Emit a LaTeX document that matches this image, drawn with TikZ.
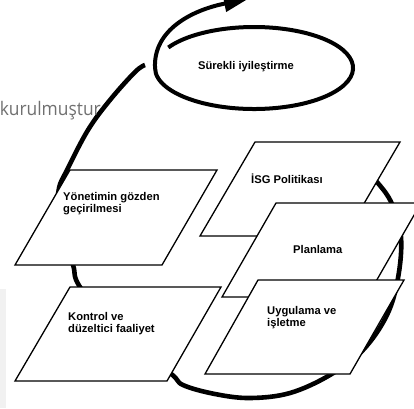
\documentclass[tikz,border=0pt]{standalone}
\usepackage{fontspec}
\setmainfont{Liberation Sans}
\newfontfamily\thinfont[FakeStretch=0.93]{Open Sans}
\usetikzlibrary{arrows.meta}
\definecolor{bandgray}{HTML}{F1F1F1}
\definecolor{notegray}{HTML}{707070}
\begin{document}
\begin{tikzpicture}[x=1pt,y=-1pt,
  card/.style={draw=black, line width=1.3pt, fill=white, line join=miter},
  lbl/.style={font=\fontsize{11.2}{11.8}\selectfont\bfseries, align=left, inner sep=0pt, anchor=base west},
  loopline/.style={line width=4.6pt, line cap=butt},
  spiral/.style={line width=4pt, line cap=butt},
]
\useasboundingbox (0,0) rectangle (414,408);
\clip (0,0) rectangle (414,408);
\fill[bandgray] (0,289) rectangle (6,408);

% big loop (behind the cards)
\draw[loopline] plot[smooth, tension=0.6] coordinates {(355,160) (377,182) (392,204) (401,237) (398,278) (387,315) (363,350) (330,375) (290,393) (250,398) (215,394) (183,385) (170,373) (120,338) (80,287) (73,265) (62,235) (58,210) (59,188) (67,170) (88,130) (110,100) (135,72) (145,65)};

% ellipse spiral with arrow
\coordinate (ec) at (254,68);
\coordinate (tip) at (248,-1);
\draw[spiral, -{Triangle[length=24pt,width=16pt]}] (168.3,47.5) arc[start angle=210, end angle=540, x radius=99, y radius=41] .. controls (153,30) and (192,10) .. (tip);
\node[font=\fontsize{11.2}{11.8}\selectfont\bfseries, inner sep=0pt, anchor=base] (surekli) at (246,69) {Sürekli iyileştirme};

% note text
\node[font=\thinfont\fontsize{18.7}{18.7}\selectfont, text=notegray, anchor=base east, inner sep=0pt] (note) at (101,115) {kurulmuştur};

% cards
\draw[card] (255,142) -- (400,142) -- (345,236) -- (200,236) -- cycle;
\node[lbl] (isg) at (251,183) {İSG Politikası};
\draw[card] (276,203) -- (421,203) -- (367,297) -- (222,297) -- cycle;
\node[lbl] (plan) at (293,253) {Planlama};
\draw[card] (258,280) -- (404,280) -- (350,374) -- (205,374) -- cycle;
\node[lbl] (uyg) at (267,326) {Uygulama ve\\işletme};
\draw[card] (70,170) -- (217,170) -- (162,265) -- (15,265) -- cycle;
\node[lbl] (yon) at (63,212) {Yönetimin gözden\\geçirilmesi};
\draw[card] (70,287) -- (221,287) -- (167,381) -- (15,381) -- cycle;
\node[lbl] (kon) at (68,332) {Kontrol ve\\düzeltici faaliyet};
\end{tikzpicture}
\end{document}
